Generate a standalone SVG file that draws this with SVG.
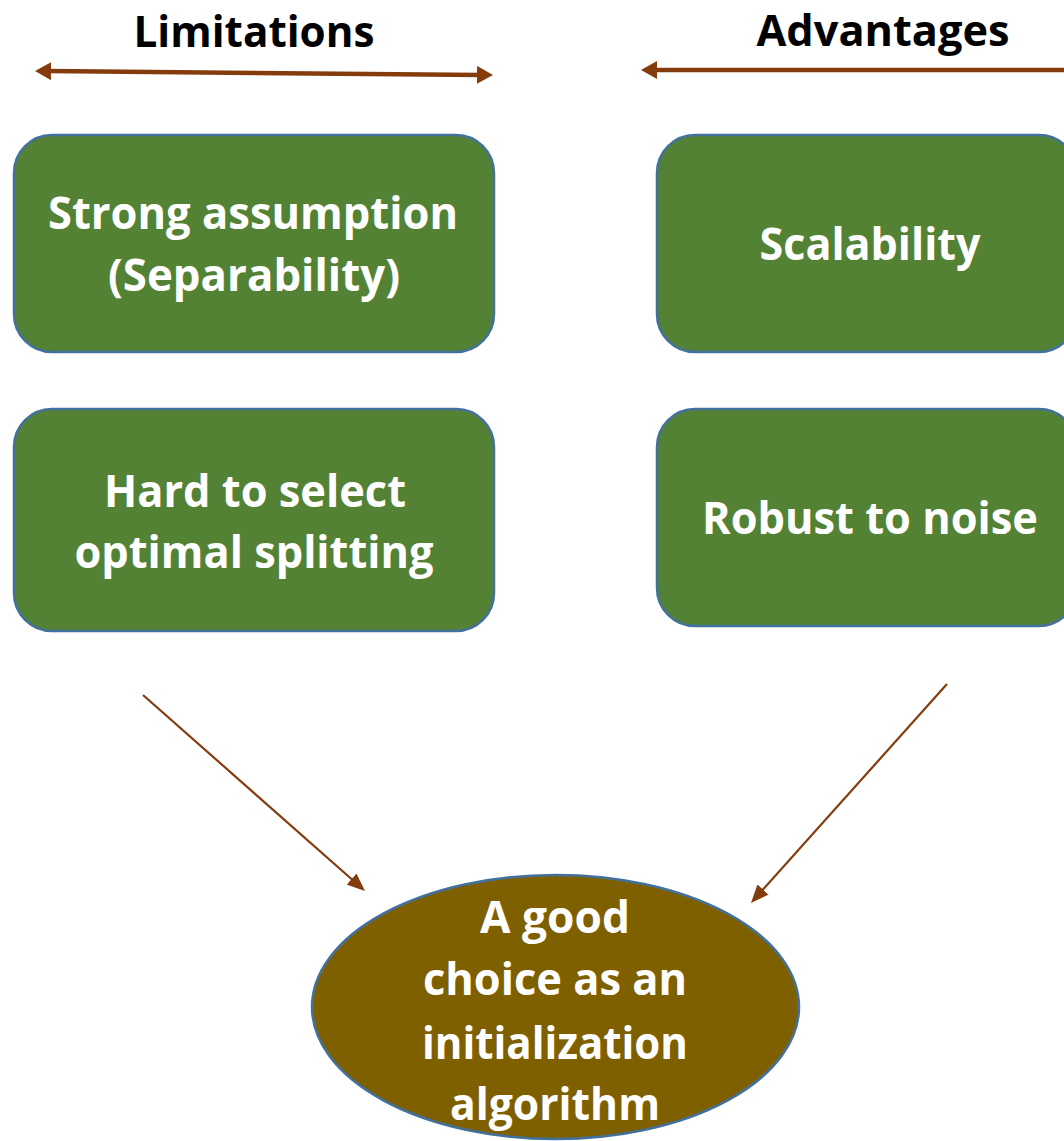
<svg xmlns="http://www.w3.org/2000/svg" width="1064" height="1141" viewBox="0 0 1064 1141">
<style>
.hdr{font-family:"Open Sans","Liberation Sans",sans-serif;font-weight:bold;font-size:43px;fill:#000;text-anchor:middle}
.lbl{font-family:"Open Sans","Liberation Sans",sans-serif;font-weight:bold;font-size:44px;fill:#fff;text-anchor:middle}
.box{fill:#548235;stroke:#41719C;stroke-width:2.5}
.oval{fill:#7F6000;stroke:#41719C;stroke-width:2.5}
.thick{stroke:#843C0C;stroke-width:4.5;fill:none}
.thin{stroke:#843C0C;stroke-width:2.2;fill:none}
</style>
<defs>
<marker id="hb" markerUnits="userSpaceOnUse" markerWidth="16" markerHeight="18" refX="4" refY="9" orient="auto-start-reverse" viewBox="0 0 16 18"><path d="M0,0 L16,9 L0,18 z" fill="#843C0C"/></marker>
<marker id="hs" markerUnits="userSpaceOnUse" markerWidth="18" markerHeight="15" refX="6" refY="7.5" orient="auto" viewBox="0 0 18 15"><path d="M0,0 L18,7.5 L0,15 z" fill="#843C0C"/></marker>
</defs>
<rect width="1064" height="1141" fill="#fff"/>
<text class="hdr" x="254" y="47" textLength="241" lengthAdjust="spacingAndGlyphs">Limitations</text>
<text class="hdr" x="883" y="46" textLength="253" lengthAdjust="spacingAndGlyphs">Advantages</text>
<g id="connectors">
<line class="thick" x1="47" y1="71.1" x2="481" y2="74.9" marker-start="url(#hb)" marker-end="url(#hb)"/>
<line class="thick" x1="1070" y1="70" x2="653" y2="70" marker-end="url(#hb)"/>
<line class="thin" x1="143" y1="695" x2="356" y2="883" marker-end="url(#hs)"/>
<line class="thin" x1="947" y1="684" x2="759" y2="894" marker-end="url(#hs)"/>
</g>
<g id="node-strong">
<rect class="box" x="14" y="135" width="480" height="217" rx="38"/>
<text class="lbl" x="253" y="229" textLength="410" lengthAdjust="spacingAndGlyphs">Strong assumption</text>
<text class="lbl" x="254" y="291" textLength="292" lengthAdjust="spacingAndGlyphs">(Separability)</text>
</g>
<g id="node-scal">
<rect class="box" x="657" y="135" width="420" height="217" rx="38"/>
<text class="lbl" x="870" y="260" textLength="221" lengthAdjust="spacingAndGlyphs">Scalability</text>
</g>
<g id="node-hard">
<rect class="box" x="14" y="409" width="480" height="222" rx="38"/>
<text class="lbl" x="255" y="507" textLength="302" lengthAdjust="spacingAndGlyphs">Hard to select</text>
<text class="lbl" x="254" y="568" textLength="359" lengthAdjust="spacingAndGlyphs">optimal splitting</text>
</g>
<g id="node-robust">
<rect class="box" x="657" y="409" width="420" height="217" rx="38"/>
<text class="lbl" x="870" y="534" textLength="336" lengthAdjust="spacingAndGlyphs">Robust to noise</text>
</g>
<g id="node-choice">
<ellipse class="oval" cx="555.5" cy="1007" rx="243.5" ry="132"/>
<text class="lbl" x="555" y="933" textLength="150" lengthAdjust="spacingAndGlyphs">A good</text>
<text class="lbl" x="555" y="995" textLength="264" lengthAdjust="spacingAndGlyphs">choice as an</text>
<text class="lbl" x="555" y="1059" textLength="266" lengthAdjust="spacingAndGlyphs">initialization</text>
<text class="lbl" x="555" y="1120" textLength="210" lengthAdjust="spacingAndGlyphs">algorithm</text>
</g>
</svg>
